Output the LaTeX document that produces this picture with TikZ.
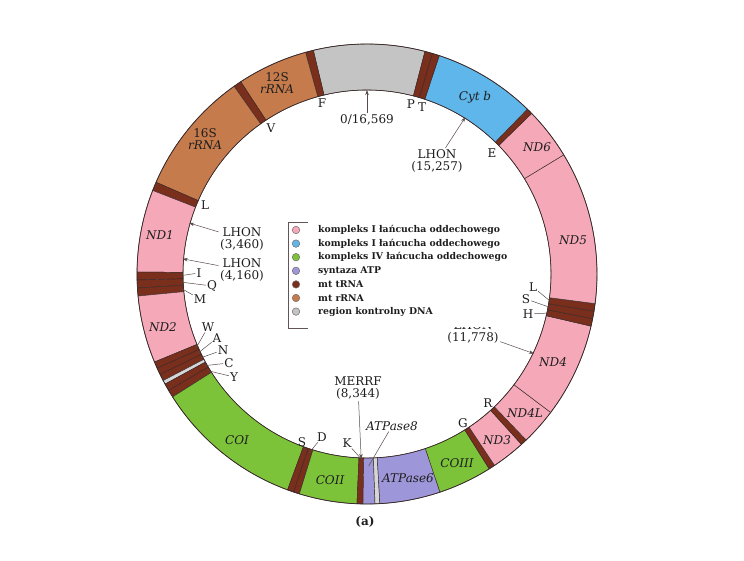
\documentclass[tikz,border=0pt]{standalone}
\usepackage{fontspec}
\setmainfont{DejaVu Serif}
\usetikzlibrary{arrows.meta}
\definecolor{cpink}{HTML}{F4A8B8}
\definecolor{cblue}{HTML}{5EB6EA}
\definecolor{cgreen}{HTML}{7CC33A}
\definecolor{cpurple}{HTML}{9D96D8}
\definecolor{ctrna}{HTML}{7A2E1C}
\definecolor{crrna}{HTML}{C57B4C}
\definecolor{cgrey}{HTML}{C4C4C4}
\definecolor{cline}{HTML}{3A2A2A}
\definecolor{ctext}{HTML}{1E1E1E}
\newcommand\mtRo{230pt}
\newcommand\mtRi{184pt}
\newcommand\mtseg[3]{\filldraw[fill=#3,draw=cline,line width=0.45pt] (#1:\mtRo) arc[start angle=#1,end angle=#2,radius=\mtRo] -- (#2:\mtRi) arc[start angle=#2,end angle=#1,radius=\mtRi] -- cycle;}
\begin{document}
\begin{tikzpicture}[x=1pt,y=1pt,
  lab/.style={inner sep=0pt,text=ctext,font=\fontsize{12}{12.5}\selectfont},
  gene/.style={inner sep=0pt,text=ctext,font=\fontsize{12}{12.5}\selectfont\itshape},
  pin/.style={draw=cline!85,line width=0.5pt},
  arr/.style={pin,shorten <=1.5pt,-{Stealth[length=5pt,width=3.5pt]}},
  legdot/.style={circle,draw=cline!70,line width=0.5pt,minimum size=7.5pt,inner sep=0pt},
  legtxt/.style={anchor=west,inner sep=0pt,text=ctext,font=\fontsize{9.3}{10}\selectfont\bfseries}]
\useasboundingbox (0,0) rectangle (744,560);
\fill[white] (0,0) rectangle (744,560);
\begin{scope}[shift={(367,286)}]
  % control region and tRNA/rRNA
  \mtseg{75.4}{103.5}{cgrey}
  \mtseg{103.5}{105.5}{ctrna}
  \mtseg{105.5}{123.3}{crrna}
  \mtseg{123.3}{125.3}{ctrna}
  \mtseg{125.3}{156.5}{crrna}
  \mtseg{156.5}{158.7}{ctrna}
  \mtseg{158.7}{179.5}{cpink}
  \mtseg{179.5}{181.5}{ctrna}
  \mtseg{181.5}{183.5}{ctrna}
  \mtseg{183.5}{185.5}{ctrna}
  \mtseg{185.5}{202.5}{cpink}
  \mtseg{202.5}{204.2}{ctrna}
  \mtseg{204.2}{205.9}{ctrna}
  \mtseg{205.9}{207.6}{ctrna}
  \mtseg{207.6}{208.6}{cgrey!70}
  \mtseg{208.6}{210.4}{ctrna}
  \mtseg{210.4}{212.3}{ctrna}
  \mtseg{212.3}{249.8}{cgreen}
  \mtseg{249.8}{251.4}{ctrna}
  \mtseg{251.4}{252.9}{ctrna}
  \mtseg{252.9}{267.5}{cgreen}
  \mtseg{267.5}{269}{ctrna}
  \mtseg{269}{272}{cpurple}
  \mtseg{272}{273.2}{cgrey!70}
  \mtseg{273.2}{288.5}{cpurple}
  \mtseg{288.5}{302.1}{cgreen}
  \mtseg{302.1}{303.7}{ctrna}
  \mtseg{303.7}{312.2}{cpink}
  \mtseg{312.2}{313.8}{ctrna}
  \mtseg{313.8}{323}{cpink}
  \mtseg{323}{346.9}{cpink}
  \mtseg{346.9}{348.8}{ctrna}
  \mtseg{348.8}{350.7}{ctrna}
  \mtseg{350.7}{352.6}{ctrna}
  \mtseg{352.6}{391.2}{cpink}
  \mtseg{391.2}{404.3}{cpink}
  \mtseg{404.3}{405.8}{ctrna}
  \mtseg{405.8}{431.7}{cblue}
  \mtseg{431.7}{433.5}{ctrna}
  \mtseg{433.5}{435.4}{ctrna}
  \draw[cline,line width=0.7pt] (0,0) circle[radius=\mtRo];
  \draw[cline,line width=0.6pt] (0,0) circle[radius=\mtRi];
  % anchor points on the ring
  \coordinate (pI) at (180.5:186pt);
  \coordinate (pQ) at (182.5:186pt);
  \coordinate (pM) at (184.5:186pt);
  \coordinate (pW) at (203.35:186pt);
  \coordinate (pA) at (205.05:186pt);
  \coordinate (pN) at (206.75:186pt);
  \coordinate (pC) at (209.5:186pt);
  \coordinate (pY) at (211.35:186pt);
  \coordinate (pS1) at (250.6:187pt);
  \coordinate (pD) at (252.1:188pt);
  \coordinate (pK) at (268.2:185pt);
  \coordinate (pMERRF) at (268.2:185pt);
  \coordinate (pATP8) at (270.5:192pt);
  \coordinate (pH) at (347.8:185pt);
  \coordinate (pS2) at (349.7:185pt);
  \coordinate (pL2) at (351.6:185pt);
  \coordinate (pOri) at (90:184pt);
  \coordinate (pLH1) at (57.9:185pt);
  \coordinate (pLH2) at (164:185pt);
  \coordinate (pLH3) at (175.3:185pt);
  \coordinate (pLH4) at (334.5:185pt);
\end{scope}
% labels on the ring
\node[lab,align=center] (t12S) at (277,477) {12S\\\textit{rRNA}};
\node[lab,align=center] (t16S) at (205,421) {16S\\\textit{rRNA}};
\node[gene] (tCytb) at (475,463) {Cyt b};
\node[gene] (tND6) at (537,413) {ND6};
\node[gene] (tND5) at (573,320) {ND5};
\node[gene] (tND4) at (553,198) {ND4};
\node[gene] (tND4L) at (525,147) {ND4L};
\node[gene] (tND3) at (497,120) {ND3};
\node[gene] (tCOIII) at (457,97) {COIII};
\node[gene] (tATP6) at (408,82) {ATPase6};
\node[gene] (tCOII) at (330,80) {COII};
\node[gene] (tCOI) at (237,120) {COI};
\node[gene] (tND2) at (163,233) {ND2};
\node[gene] (tND1) at (160,325) {ND1};
% tRNA letters
\node[lab] (tF) at (322,457) {F};
\node[lab] (tV) at (271,432) {V};
\node[lab] (tP) at (411,456) {P};
\node[lab] (tT) at (422,453) {T};
\node[lab] (tE) at (492,407) {E};
\node[lab] (tL1) at (205,355) {L};
\node[lab] (tI) at (199,287) {I};
\node[lab] (tQ) at (212,274) {Q};
\node[lab] (tM) at (200,261) {M};
\node[lab] (tW) at (208,233) {W};
\node[lab] (tA) at (217,222) {A};
\node[lab] (tN) at (223,210) {N};
\node[lab] (tC) at (229,197) {C};
\node[lab] (tY) at (234,183) {Y};
\node[lab] (tS1) at (302,118) {S};
\node[lab] (tD) at (322,123) {D};
\node[lab] (tK) at (347,117) {K};
\node[lab] (tG) at (463,137) {G};
\node[lab] (tR) at (488,157) {R};
\node[lab] (tH) at (528,246) {H};
\node[lab] (tS2) at (526,261) {S};
\node[lab] (tL2) at (533,273) {L};
\foreach \a in {I,Q,M,W,A,N,C,Y,S1,D,K,H,S2,L2} \draw[pin,shorten <=1pt] (t\a) -- (p\a);
% mutation markers
\node[lab] (tOri) at (367,440) {0/16,569};
\draw[arr] (tOri) -- (pOri);
\node[lab,align=center] (tLH1) at (437,399) {LHON\\(15,257)};
\draw[arr] (tLH1) -- (pLH1);
\node[lab,align=center] (tLH2) at (242,321) {LHON\\(3,460)};
\draw[arr] (tLH2) -- (pLH2);
\node[lab,align=center] (tLH3) at (242,290) {LHON\\(4,160)};
\draw[arr] (tLH3) -- (pLH3);
\node[lab,align=center] (tLH4) at (473,228) {LHON\\(11,778)};
\draw[arr] (tLH4) -- (pLH4);
\node[lab,align=center] (tMERRF) at (358,172) {MERRF\\(8,344)};
\draw[arr] (tMERRF) -- (pMERRF);
\node[gene] (tATP8) at (392,134) {ATPase8};
\draw[pin,shorten <=1pt] (tATP8) -- (pATP8);
\node[lab,font=\fontsize{12}{12.5}\selectfont\bfseries] (tCap) at (365,38) {(a)};
% legend
\fill[white] (286,345) rectangle (515,232.5);
\draw[cline!80,line width=0.6pt] (308,338) -- (288,338) -- (288,232) -- (308,232);
\node[legdot,fill=cpink] (d1) at (296,330) {};
\node[legdot,fill=cblue] (d2) at (296,316.4) {};
\node[legdot,fill=cgreen] (d3) at (296,302.8) {};
\node[legdot,fill=cpurple] (d4) at (296,289.2) {};
\node[legdot,fill=ctrna] (d5) at (296,275.6) {};
\node[legdot,fill=crrna] (d6) at (296,262) {};
\node[legdot,fill=cgrey] (d7) at (296,248.4) {};
\node[legtxt] (k1) at (318,330) {kompleks I łańcucha oddechowego};
\node[legtxt] (k2) at (318,316.4) {kompleks I łańcucha oddechowego};
\node[legtxt] (k3) at (318,302.8) {kompleks IV łańcucha oddechowego};
\node[legtxt] (k4) at (318,289.2) {syntaza ATP};
\node[legtxt] (k5) at (318,275.6) {mt tRNA};
\node[legtxt] (k6) at (318,262) {mt rRNA};
\node[legtxt] (k7) at (318,248.4) {region kontrolny DNA};
\end{tikzpicture}
\end{document}
